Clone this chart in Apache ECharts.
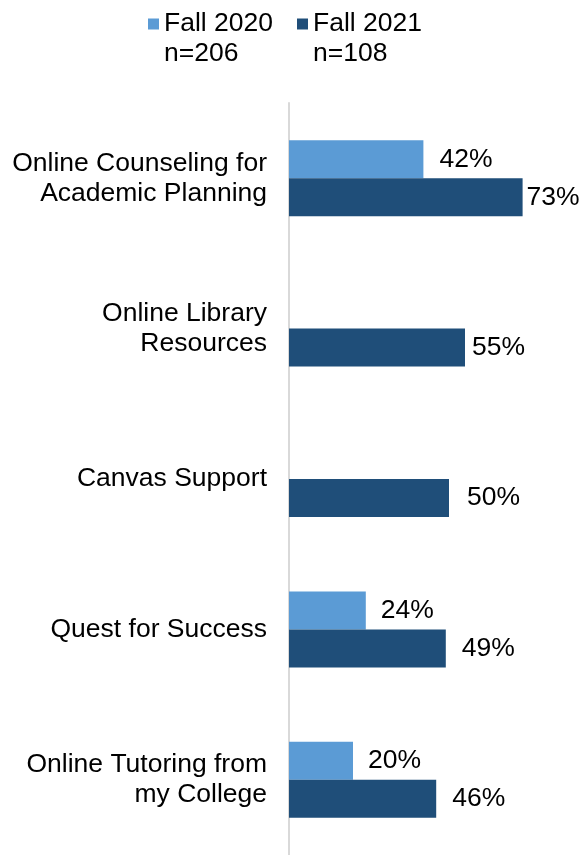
<!DOCTYPE html>
<html>
<head>
<meta charset="utf-8">
<script src="https://cdn.jsdelivr.net/npm/echarts@6/dist/echarts.min.js"></script>
<style>
  html, body { margin: 0; padding: 0; background: #fff; }
  #chart { width: 580px; height: 855px; }
</style>
</head>
<body>
<div id="chart"></div>
<script>
// Services used, by survey term (percent of respondents)
const categories = [
  'Online Counseling for\nAcademic Planning',
  'Online Library\nResources',
  'Canvas Support',
  'Quest for Success',
  'Online Tutoring from\nmy College'
];
const seriesNames = ['Fall 2020\nn=206', 'Fall 2021\nn=108'];
const fall2020 = [42, null, null, 24, 20];
const fall2021 = [73, 55, 50, 49, 46];

// gap between bar end and its value label, per category
const gap2020 = [16, 15, 15, 15, 15];
const gap2021 = [4, 7, 18, 16, 16];

const FONT = 'Liberation Sans, Arial, sans-serif';
const FS = 26.5;

function withLabels(values, gaps) {
  return values.map((v, i) => v == null ? null : { value: v, label: { distance: gaps[i] } });
}

const chart = echarts.init(document.getElementById('chart'), null, { renderer: 'canvas' });
chart.setOption({
  animation: false,
  color: ['#5B9BD5', '#1F4E79'],
  legend: {
    left: 143,
    top: -26,
    itemWidth: 11,
    itemHeight: 11,
    itemGap: 24,
    icon: 'rect',
    // a blank leading line keeps the marker level with the first text line
    formatter: name => '\n' + name,
    textStyle: {
      fontFamily: FONT,
      fontSize: FS,
      color: '#000',
      lineHeight: 30
    },
    data: seriesNames
  },
  grid: { left: 289, right: 35, top: 103, bottom: 0, containLabel: false },
  xAxis: {
    type: 'value',
    min: 0,
    max: 80,
    show: false
  },
  yAxis: {
    type: 'category',
    inverse: true,
    data: categories,
    axisLine: { show: true, lineStyle: { color: '#d9d9d9', width: 2 } },
    axisTick: { show: false },
    axisLabel: {
      margin: 22,
      fontFamily: FONT,
      fontSize: FS,
      color: '#000',
      lineHeight: 30,
      align: 'right',
      padding: [0, 0, 3, 0]
    }
  },
  series: [
    {
      name: seriesNames[0],
      type: 'bar',
      barWidth: 38,
      barGap: '0%',
      data: withLabels(fall2020, gap2020),
      label: {
        show: true,
        position: 'right',
        formatter: '{c}%',
        fontFamily: FONT,
        fontSize: FS,
        color: '#000'
      }
    },
    {
      name: seriesNames[1],
      type: 'bar',
      barWidth: 38,
      barGap: '0%',
      data: withLabels(fall2021, gap2021),
      label: {
        show: true,
        position: 'right',
        formatter: '{c}%',
        fontFamily: FONT,
        fontSize: FS,
        color: '#000'
      }
    }
  ]
});
</script>
</body>
</html>
